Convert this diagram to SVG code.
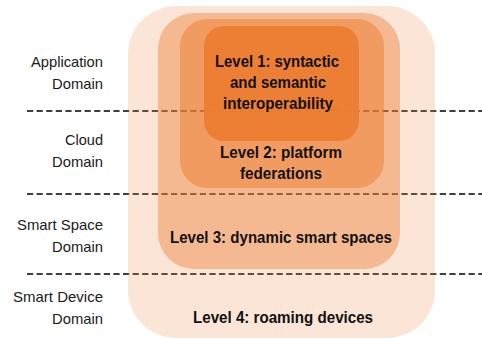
<svg xmlns="http://www.w3.org/2000/svg" width="482" height="339" viewBox="0 0 482 339">
<style>
.lvl{fill:#ED7D31}
.dash{stroke:#000;stroke-width:1.4;stroke-dasharray:6.2 3.4;fill:none}
.lbl{font-family:"Liberation Sans",Arial,sans-serif;font-size:15px;fill:#1a1a1a;text-anchor:end}
.ttl{font-family:"Liberation Sans",Arial,sans-serif;font-size:17px;font-weight:bold;fill:#111;text-anchor:middle}
</style>
<rect width="482" height="339" fill="#fff"/>
<g id="connectors">
<line class="dash" x1="27" y1="111" x2="482" y2="111"/>
<line class="dash" x1="27" y1="194" x2="482" y2="194"/>
<line class="dash" x1="27" y1="274" x2="482" y2="274"/>
</g>
<g id="level4">
<rect class="lvl" x="128" y="6" width="307" height="332" rx="48" fill-opacity="0.2"/>
<text class="ttl" x="283" y="323" textLength="180" lengthAdjust="spacingAndGlyphs">Level 4: roaming devices</text>
</g>
<g id="level3">
<rect class="lvl" x="158" y="13" width="242" height="256" rx="36" fill-opacity="0.42"/>
<text class="ttl" x="281" y="243" textLength="222" lengthAdjust="spacingAndGlyphs">Level 3: dynamic smart spaces</text>
</g>
<g id="level2">
<rect class="lvl" x="180" y="19" width="204" height="169" rx="27" fill-opacity="0.5"/>
<text class="ttl" x="281" y="158" textLength="122" lengthAdjust="spacingAndGlyphs">Level 2: platform</text>
<text class="ttl" x="281" y="179" textLength="82" lengthAdjust="spacingAndGlyphs">federations</text>
</g>
<g id="level1">
<rect class="lvl" x="204" y="26" width="155" height="115" rx="20" fill-opacity="0.93"/>
<text class="ttl" x="277" y="67" textLength="124" lengthAdjust="spacingAndGlyphs">Level 1: syntactic</text>
<text class="ttl" x="278" y="88" textLength="96" lengthAdjust="spacingAndGlyphs">and semantic</text>
<text class="ttl" x="278" y="109" textLength="110" lengthAdjust="spacingAndGlyphs">interoperability</text>
</g>
<g id="domain-application">
<text class="lbl" x="103" y="67" textLength="72" lengthAdjust="spacingAndGlyphs">Application</text>
<text class="lbl" x="103" y="89" textLength="51" lengthAdjust="spacingAndGlyphs">Domain</text>
</g>
<g id="domain-cloud">
<text class="lbl" x="103" y="145" textLength="38" lengthAdjust="spacingAndGlyphs">Cloud</text>
<text class="lbl" x="103" y="167" textLength="51" lengthAdjust="spacingAndGlyphs">Domain</text>
</g>
<g id="domain-smartspace">
<text class="lbl" x="103" y="230" textLength="86" lengthAdjust="spacingAndGlyphs">Smart Space</text>
<text class="lbl" x="103" y="252" textLength="51" lengthAdjust="spacingAndGlyphs">Domain</text>
</g>
<g id="domain-smartdevice">
<text class="lbl" x="103" y="302" textLength="90" lengthAdjust="spacingAndGlyphs">Smart Device</text>
<text class="lbl" x="103" y="324" textLength="51" lengthAdjust="spacingAndGlyphs">Domain</text>
</g>
</svg>
